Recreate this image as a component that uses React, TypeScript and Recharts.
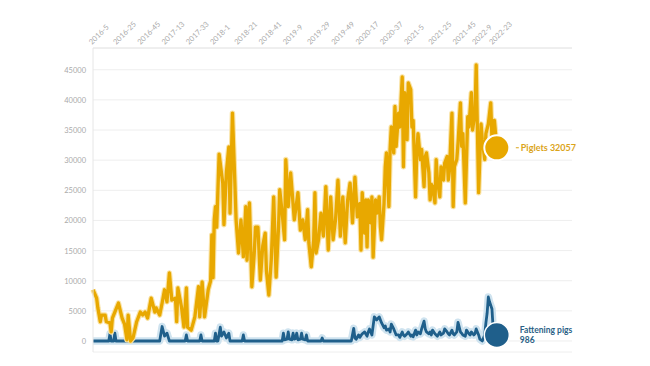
import React from "react";
import { LineChart, Line, XAxis, YAxis, CartesianGrid } from "recharts";

const xTickWeeks = [0, 20, 40, 60, 80, 100, 120, 140, 160, 180, 200, 220, 240, 260, 280, 300, 316, 330];
const xTickLabels = ["2016-5", "2016-25", "2016-45", "2017-13", "2017-33", "2018-1", "2018-21", "2018-41", "2019-9", "2019-29", "2019-49", "2020-17", "2020-37", "2021-5", "2021-25", "2021-45", "2022-9", "2022-23"];
const yTicks = [0, 5000, 10000, 15000, 20000, 25000, 30000, 35000, 40000, 45000];

const pigletWeeks = [0,3,4,6,7,10,11,14,15,16,18,21,24,26,28,29,31,33,36,39,41,43,45,48,51,52,55,57,59,61,63,65,68,69,70,73,75,77,78,81,84,87,88,90,92,95,97,98,99,100,101,102,104,107,108,110,112,113,115,117,118,120,122,124,126,127,129,131,133,134,136,138,140,142,143,145,147,149,151,153,154,156,158,159,161,163,166,169,171,173,175,177,178,180,182,183,184,186,188,190,192,194,196,198,200,202,204,206,208,210,212,214,216,218,220,221,222,224,225,226,227,229,230,231,233,234,236,237,238,240,241,242,244,245,246,248,249,250,252,253,255,256,257,259,260,262,263,264,266,267,268,270,271,273,274,275,277,278,279,280,282,283,284,286,287,289,290,292,293,294,296,297,298,300,301,303,304,305,307,309,310,312,313,315,316,317,318,320,321,323,324,326,328,329,331,333];
const pigletValues = [8500,7100,5500,3200,4300,4300,3200,3000,1500,3800,4800,6300,3800,2800,200,4300,0,500,3200,4800,4300,4800,3800,7100,4800,5500,4300,6300,8500,6500,11300,6800,7100,3200,8800,5600,2300,8800,2300,1800,4000,9000,4000,9800,4000,8500,10000,17600,10500,20100,22300,18900,31000,26200,19300,28000,32200,21200,37800,26200,20100,14600,20100,14000,22300,13400,22900,9000,14600,18900,18900,10100,15800,17900,11700,7600,13400,23900,10600,18900,25100,21200,16800,30100,22300,27900,20100,24600,18400,20100,16800,21800,16300,12300,16800,24600,14600,16800,21200,17400,25600,15100,23900,16800,20100,26700,17400,23900,16300,23400,26200,19600,27200,20600,22800,15100,24600,17900,23400,15600,23400,19600,23900,13900,23400,21200,23900,18900,16800,22800,28900,31200,22300,31800,35500,31200,38900,32300,37800,35500,43800,28900,41200,33400,42800,41700,35500,36600,23900,31200,34400,30100,31800,25600,30600,31200,27900,23400,26000,25600,22900,30100,26700,23900,28900,26700,29500,30600,26700,28400,37800,22300,28900,30100,32800,39500,32300,34400,22900,37200,35500,41200,35000,37800,45800,35000,24600,36000,33400,30100,34400,36000,39500,33400,36600,32057];

const fatWeeks = [0,13,14,15,17,18,19,55,57,59,61,63,76,77,78,88,89,90,100,101,102,103,105,106,108,110,112,113,123,124,125,156,157,158,160,161,162,164,165,166,167,168,169,171,172,173,175,176,177,188,189,190,213,215,216,217,219,220,222,224,226,227,228,230,232,234,236,238,240,241,242,244,245,246,248,249,250,252,253,255,256,257,259,260,262,263,264,266,267,268,270,271,273,274,275,277,278,279,280,282,283,284,286,287,289,290,292,293,294,296,297,298,300,301,303,304,305,307,308,310,311,312,314,315,316,318,319,321,322,323,324,325,326,327,329,330,331,333];
const fatValues = [0,0,1200,0,0,1300,0,0,2400,800,1300,0,0,1000,0,0,1000,0,0,1300,0,0,2300,800,1500,500,1300,0,0,1000,0,0,1300,200,300,1500,300,200,1300,300,400,1300,200,300,1300,300,200,1000,0,0,500,0,0,2100,500,300,1000,600,1200,1500,800,1500,2000,1000,4000,3500,4000,3000,2200,2500,1800,2000,1500,2800,2000,1500,1000,1000,600,1500,1000,800,1200,1500,800,1000,700,1800,1000,1500,1200,2000,3300,2000,1500,1200,1500,1000,1800,1200,1000,800,1500,1000,1300,2000,1500,1200,1000,1800,1200,1000,1500,3100,1500,1300,1000,800,1800,1200,1000,1500,1000,1200,2000,1000,300,0,500,1000,3000,4600,7300,6500,5300,2000,1000,986];

const piglets = pigletWeeks.map((w, i) => ({ w, v: pigletValues[i] }));
const fattening = fatWeeks.map((w, i) => ({ w, v: fatValues[i] }));

const ORANGE = "#e8a800";
const ORANGE_TEXT = "#dba41a";
const BLUE = "#1f5f8b";
const BLUE_TEXT = "#2a5f86";
const FONT = "Lato, 'Open Sans', sans-serif";

const XTick = (props: any) => {
  const { x, payload } = props;
  const idx = xTickWeeks.indexOf(payload.value);
  const label = idx >= 0 ? xTickLabels[idx] : "";
  const tx = x - 1;
  const ty = 45;
  return (
    <text x={tx} y={ty} transform={`rotate(-45, ${tx}, ${ty})`} textAnchor="start" fontSize={7.5} fill="#aaaaaa" fontFamily={FONT}>
      {label}
    </text>
  );
};

const YTick = (props: any) => {
  const { y, payload } = props;
  return (
    <text x={86} y={y} dy={3} textAnchor="end" fontSize={7.5} fill="#aaaaaa" fontFamily={FONT}>
      {payload.value}
    </text>
  );
};

const pigletDot = (props: any) => {
  const { cx, cy, index } = props;
  if (index !== piglets.length - 1) return <g key={`pd${index}`} />;
  return (
    <g key={`pd${index}`}>
      <circle cx={cx} cy={cy} r={12.5} fill={ORANGE} stroke="#ffffff" strokeWidth={2} />
      <line x1={cx + 19} y1={cy} x2={cx + 22} y2={cy} stroke={ORANGE_TEXT} strokeWidth={1} />
      <text x={cx + 24} y={cy + 3} fontSize={9} fontWeight={700} fill={ORANGE_TEXT} fontFamily={FONT}>
        Piglets 32057
      </text>
    </g>
  );
};

const fatDot = (props: any) => {
  const { cx, cy, index } = props;
  if (index !== fattening.length - 1) return <g key={`fd${index}`} />;
  return (
    <g key={`fd${index}`}>
      <circle cx={cx} cy={cy} r={12.5} fill={BLUE} stroke="#ffffff" strokeWidth={1.5} />
      <text x={cx + 23} y={cy - 2.5} fontSize={8.5} fontWeight={700} fill={BLUE_TEXT} fontFamily={FONT}>
        Fattening pigs
      </text>
      <text x={cx + 23} y={cy + 7.5} fontSize={8.5} fontWeight={700} fill={BLUE_TEXT} fontFamily={FONT}>
        986
      </text>
    </g>
  );
};

export default function App() {
  return (
    <div style={{ position: "absolute", left: 0, top: 0, width: 650, height: 366, background: "#fff" }}>
      <LineChart width={650} height={366} margin={{ top: 0, right: 78, bottom: 14, left: 0 }}>
        <CartesianGrid horizontal={true} vertical={false} stroke="#eeeeee" strokeWidth={1} />
        <XAxis
          type="number"
          dataKey="w"
          orientation="top"
          domain={[0, 395]}
          ticks={xTickWeeks}
          interval={0}
          tick={<XTick />}
          tickLine={false}
          axisLine={{ stroke: "#e6e6e6" }}
          height={48}
        />
        <YAxis
          type="number"
          domain={[-1825, 48607]}
          ticks={yTicks}
          interval={0}
          tick={<YTick />}
          tickLine={false}
          axisLine={{ stroke: "#e6e6e6" }}
          width={93}
        />
        <Line data={fattening} dataKey="v" type="linear" stroke="#cfe3ef" strokeWidth={7.5} dot={false} activeDot={false} isAnimationActive={false} strokeLinejoin="round" />
        <Line data={fattening} dataKey="v" type="linear" stroke={BLUE} strokeWidth={2.8} dot={fatDot} activeDot={false} isAnimationActive={false} strokeLinejoin="round" />
        <Line data={piglets} dataKey="v" type="linear" stroke="#f9e3a6" strokeWidth={5.5} dot={false} activeDot={false} isAnimationActive={false} strokeLinejoin="round" />
        <Line data={piglets} dataKey="v" type="linear" stroke={ORANGE} strokeWidth={3.3} dot={pigletDot} activeDot={false} isAnimationActive={false} strokeLinejoin="round" />
      </LineChart>
    </div>
  );
}
